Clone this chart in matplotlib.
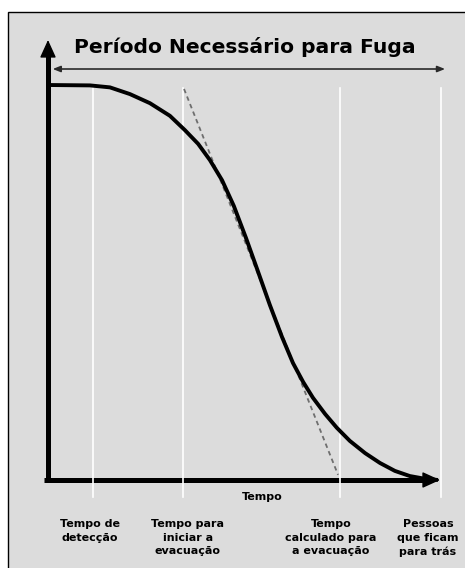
import matplotlib.pyplot as plt
from matplotlib.patches import Rectangle

# curve: share of people still inside vs. time
time_pts = [0.0, 10.7, 15.8, 20.9, 26.0, 31.1, 34.9, 38.3, 41.3, 44.4,
            47.4, 50.5, 53.6, 56.6, 59.7, 62.5, 65.1, 67.6, 70.7, 73.7,
            77.0, 80.9, 84.7, 88.5, 92.3, 96.2, 99.5]
people_pct = [100.0, 99.9, 99.4, 97.7, 95.4, 92.2, 88.6, 85.1, 81.0, 75.9,
              69.4, 61.3, 52.7, 44.3, 36.2, 29.6, 24.8, 20.8, 16.7, 13.2,
              9.9, 6.8, 4.3, 2.3, 1.0, 0.3, 0.0]

# dashed tangent
tangent_t = [34.7, 74.0]
tangent_y = [99.0, 1.3]

# white milestone lines and their captions
milestone_t = [11.5, 34.5, 74.5, 100.3]
label_t = [10.7, 35.7, 72.2, 96.9]
milestone_labels = [
    "Tempo de\ndetecção",
    "Tempo para\niniciar a\nevacuação",
    "Tempo\ncalculado para\na evacuação",
    "Pessoas\nque ficam\npara trás",
]

title = "Período Necessário para Fuga"
x_label = "Tempo"


def add_head(ax, tip, start, head_length, head_width, color, lw=1.0):
    """
    Draw only an arrow head (short shaft) pointing at tip.
    """
    ax.annotate(
        "", xy=tip, xytext=start,
        arrowprops=dict(
            arrowstyle=f"-|>,head_length={head_length},head_width={head_width}",
            lw=lw, color=color, shrinkA=0, shrinkB=0
        ),
        zorder=6
    )


def main():

    fig = plt.figure(figsize=(4.65, 5.68), dpi=100)
    fig.patch.set_facecolor("white")

    frame = Rectangle(
        (8 / 465, -0.05), 1.2, (568 - 12) / 568 + 0.05,
        transform=fig.transFigure,
        facecolor="#dcdcdc",
        edgecolor="black",
        lw=1.0,
        zorder=-1
    )
    fig.add_artist(frame)

    ax = fig.add_axes([0, 0, 1, 1])
    ax.patch.set_visible(False)
    ax.set_axis_off()
    ax.set_xlim(-12.245, 106.38)
    ax.set_ylim(-22.28, 121.52)

    # axes shafts
    ax.plot([0, 0], [-0.6, 108.5], color="black", lw=3.6,
            solid_capstyle="butt", zorder=2)
    ax.plot([-0.9, 97.5], [0, 0], color="black", lw=3.6,
            solid_capstyle="butt", zorder=2)

    # milestone lines
    for t in milestone_t:
        ax.plot([t, t], [-4.3, 99.3], color="white", lw=1.2, zorder=3)

    # arrow heads of the axes
    add_head(ax, (0, 111.4), (0, 106), 1.1, 0.5, "black")
    add_head(ax, (100, 0), (95, 0), 1.1, 0.5, "black")

    # title span arrow
    ax.annotate(
        "", xy=(101.3, 104.05), xytext=(1.2, 104.05),
        arrowprops=dict(arrowstyle="<|-|>,head_length=0.45,head_width=0.18",
                        lw=1.2, color="#2a2a2a", shrinkA=0, shrinkB=0),
        zorder=2
    )

    ax.plot(tangent_t, tangent_y, color="#6e6e6e", lw=1.3,
            dashes=(2.5, 2), zorder=4)

    ax.plot(time_pts, people_pct, color="black", lw=2.8,
            solid_capstyle="butt", solid_joinstyle="round", zorder=5)

    ax.text(50.3, 108.1, title, ha="center", va="baseline",
            fontsize=14.6, fontweight="bold", color="black")

    ax.text(54.6, -4.3, x_label, ha="center", va="center",
            fontsize=8, fontweight="bold", color="black")

    for t, label in zip(label_t, milestone_labels):
        ax.text(t, -9.9, label, ha="center", va="top",
                fontsize=8, fontweight="bold", color="black",
                linespacing=1.45)

    fig.savefig("out.png", dpi=100)
    plt.close(fig)


if __name__ == "__main__":
    main()
